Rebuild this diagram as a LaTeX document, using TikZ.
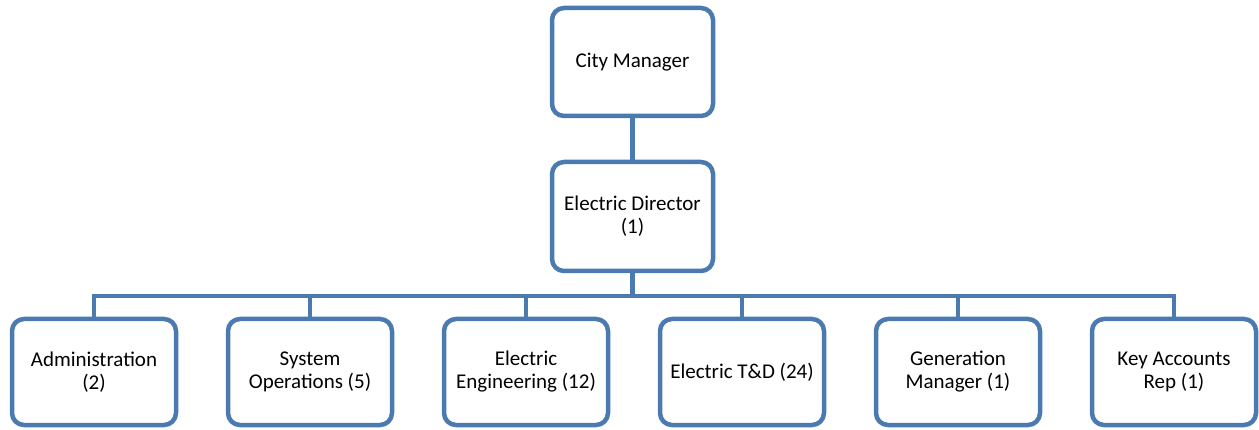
\documentclass[tikz,border=0pt]{standalone}
\usepackage{fontspec}
\setmainfont{Carlito}
\definecolor{boxblue}{RGB}{74,122,176}
\begin{document}
\begin{tikzpicture}[x=1pt,y=-1pt,
  orgbox/.style={draw=boxblue,line width=4.5pt,rounded corners=12pt,fill=white,
    minimum width=162pt,align=center,inner sep=0pt,
    font=\fontsize{21}{23}\selectfont},
  link/.style={draw=boxblue,line width=4.5pt}]
\useasboundingbox (0,0) rectangle (1259,430);
\node[orgbox,minimum width=161pt,minimum height=108pt] (cm) at (632.5,62) {City Manager};
\node[orgbox,minimum width=161pt,minimum height=109pt] (ed) at (632.5,216.5) {Electric Director\\(1)};
\coordinate (bus) at (632.5,296);
\foreach \n/\x/\t in {ad/94/{Administration\\(2)},
                      so/310/{System\\Operations (5)},
                      ee/526/{Electric\\Engineering (12)},
                      td/742/{Electric T\&D (24)},
                      gm/958/{Generation\\Manager (1)},
                      ka/1174/{Key Accounts\\Rep (1)}}{
  \node[orgbox,minimum width=164pt,minimum height=106pt] (\n) at (\x,372) {\t};
}
\draw[link] (cm.south) -- (ed.north);
\draw[link] (ed.south) -- (bus);
\draw[link] (ad.north) |- (bus) -| (ka.north);
\foreach \n in {so,ee,td,gm}{
  \draw[link] (\n.north) -- (\n.north |- bus);
}
\end{tikzpicture}
\end{document}
